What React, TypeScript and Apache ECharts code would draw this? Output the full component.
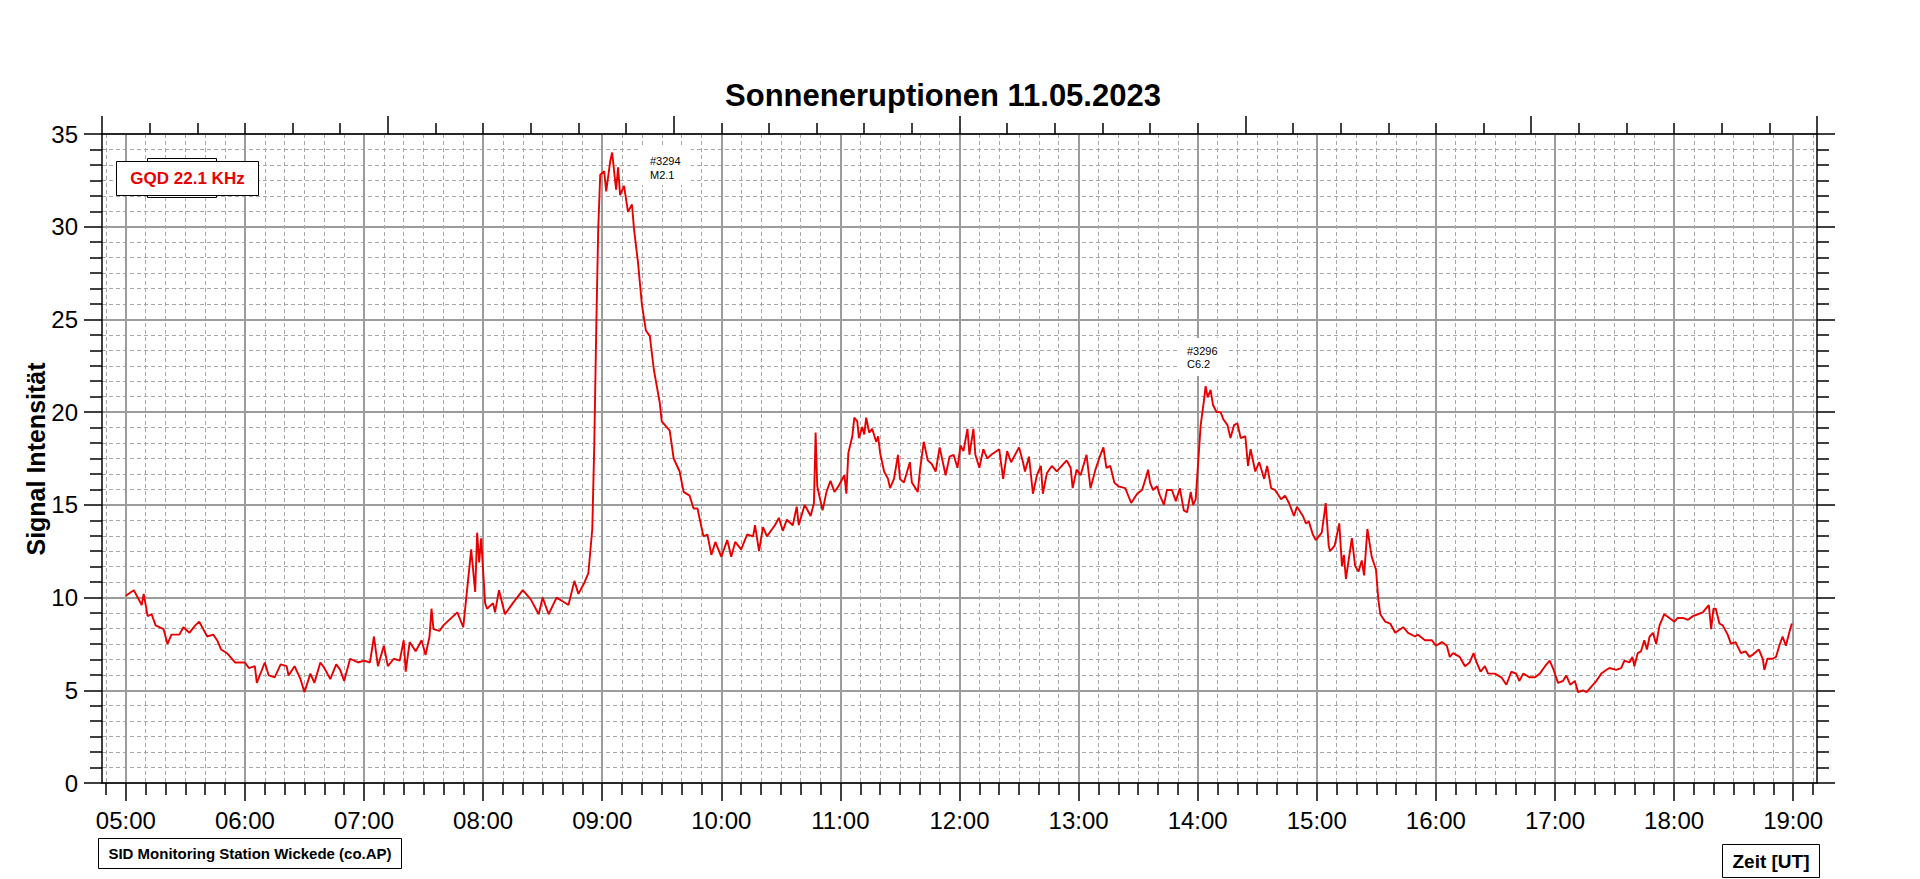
import React, { useEffect, useRef } from "react";
import * as echarts from "echarts";

// ---- tick labels ----
const hourLabels = ["05:00", "06:00", "07:00", "08:00", "09:00", "10:00", "11:00", "12:00", "13:00", "14:00", "15:00", "16:00", "17:00", "18:00", "19:00"];

// ---- signal data (UT time, signal intensity) ----
const morningTime = ["05:00", "05:04", "05:06", "05:08", "05:09", "05:11", "05:13", "05:15", "05:19", "05:21", "05:23", "05:27", "05:29", "05:32", "05:35", "05:37", "05:39", "05:41", "05:44", "05:46", "05:48", "05:51", "05:55", "06:00", "06:02", "06:05", "06:06", "06:10", "06:12", "06:15", "06:18", "06:21", "06:22", "06:25", "06:28", "06:30", "06:33", "06:35", "06:38", "06:40", "06:43", "06:46", "06:48", "06:50", "06:53", "06:57", "07:00", "07:03", "07:05", "07:07", "07:10", "07:12", "07:15", "07:18", "07:20", "07:21", "07:23", "07:26", "07:29", "07:31", "07:33", "07:34"];
const morningSignal = [10.1, 10.4, 10.0, 9.6, 10.2, 9.0, 9.1, 8.5, 8.3, 7.5, 8.0, 8.0, 8.4, 8.1, 8.5, 8.7, 8.3, 7.9, 8.0, 7.7, 7.2, 7.0, 6.5, 6.5, 6.2, 6.3, 5.4, 6.5, 5.8, 5.7, 6.4, 6.3, 5.8, 6.3, 5.6, 4.9, 5.9, 5.4, 6.5, 6.2, 5.6, 6.4, 6.1, 5.5, 6.7, 6.5, 6.6, 6.5, 7.9, 6.3, 7.4, 6.3, 6.7, 6.6, 7.7, 6.0, 7.6, 7.1, 7.7, 6.9, 7.9, 9.4];

const flareM21Time = ["07:35", "07:38", "07:40", "07:42", "07:47", "07:50", "07:52", "07:54", "07:56", "07:57", "07:58", "07:59", "08:01", "08:02", "08:05", "08:06", "08:08", "08:11", "08:15", "08:20", "08:24", "08:28", "08:30", "08:33", "08:37", "08:40", "08:43", "08:46", "08:48", "08:51", "08:53", "08:55", "08:56", "08:57", "08:58", "08:59", "09:01", "09:02", "09:04", "09:05", "09:07", "09:08", "09:09", "09:11", "09:13", "09:15", "09:16", "09:18", "09:20", "09:22", "09:24", "09:26", "09:29", "09:30", "09:34", "09:36", "09:39", "09:41", "09:44", "09:46", "09:48", "09:51", "09:53", "09:55", "09:57", "10:00"];
const flareM21Signal = [8.3, 8.2, 8.5, 8.7, 9.2, 8.4, 10.5, 12.6, 10.3, 13.5, 11.9, 13.2, 9.7, 9.4, 9.7, 9.2, 10.4, 9.1, 9.7, 10.4, 9.9, 9.1, 10.0, 9.1, 10.0, 9.8, 9.6, 10.9, 10.2, 10.8, 11.3, 13.7, 18.2, 24.5, 29.9, 32.8, 33.0, 31.9, 33.5, 34.0, 32.0, 33.2, 31.7, 32.2, 30.8, 31.2, 29.9, 28.1, 25.8, 24.4, 24.1, 22.3, 20.5, 19.5, 19.0, 17.5, 16.8, 15.7, 15.5, 14.8, 14.8, 13.3, 13.4, 12.3, 13.0, 12.2];

const middayTime = ["10:03", "10:05", "10:07", "10:10", "10:13", "10:16", "10:17", "10:19", "10:21", "10:23", "10:27", "10:29", "10:31", "10:33", "10:36", "10:38", "10:39", "10:42", "10:43", "10:45", "10:46:40", "10:47:30", "10:48:20", "10:51", "10:53", "10:55", "10:57", "10:59", "11:02", "11:03", "11:04", "11:06", "11:07", "11:08:30", "11:09:20", "11:11", "11:12", "11:13", "11:14:30", "11:16", "11:18", "11:19", "11:20", "11:22", "11:24", "11:25", "11:27", "11:29", "11:30", "11:32", "11:35", "11:36", "11:39", "11:40", "11:42", "11:44", "11:46", "11:48", "11:50", "11:53", "11:55", "11:57", "11:59", "12:00:30", "12:02", "12:04", "12:05", "12:07", "12:08", "12:10", "12:12", "12:14", "12:16", "12:20", "12:22", "12:24", "12:26", "12:27", "12:30", "12:32"];
const middaySignal = [13.1, 12.2, 13.0, 12.6, 13.4, 13.3, 13.9, 12.5, 13.8, 13.3, 13.9, 14.3, 13.6, 14.2, 13.9, 14.9, 13.9, 15.0, 14.8, 14.4, 15.1, 18.9, 16.0, 14.7, 15.7, 16.3, 15.7, 16.0, 16.6, 15.6, 17.8, 18.7, 19.7, 19.5, 18.6, 19.2, 18.8, 19.7, 18.9, 19.1, 18.4, 18.7, 17.8, 16.8, 16.4, 15.9, 16.4, 17.7, 16.4, 16.2, 17.3, 16.2, 15.7, 16.8, 18.4, 17.4, 17.2, 16.8, 18.1, 16.6, 17.6, 17.7, 17.0, 18.2, 17.9, 19.1, 17.7, 19.1, 17.7, 17.0, 18.0, 17.5, 17.7, 18.0, 16.4, 17.9, 17.3, 17.5, 18.1, 17.3];

const flareC62Time = ["12:33", "12:35", "12:37", "12:39", "12:41", "12:42", "12:44", "12:46:30", "12:49", "12:51:30", "12:54", "12:56", "12:57", "12:59", "13:01", "13:04", "13:06", "13:08:30", "13:11", "13:12:30", "13:14", "13:16", "13:18", "13:20", "13:23:30", "13:26:30", "13:29:30", "13:32", "13:34", "13:35", "13:36", "13:37:30", "13:39:30", "13:41", "13:43", "13:44:30", "13:47", "13:49", "13:51", "13:53", "13:54:40", "13:56:30", "13:57:40", "13:59", "14:00", "14:01:30", "14:03", "14:04", "14:05", "14:06:30", "14:07:40", "14:09:30", "14:11:30", "14:13", "14:15", "14:16:30", "14:18:20", "14:20", "14:21:40", "14:24", "14:25:20", "14:26:40", "14:29", "14:31", "14:33:30", "14:35", "14:37", "14:39", "14:42", "14:44", "14:46", "14:48:30", "14:50", "14:53", "14:54:30", "14:56", "14:58", "14:59:30"];
const flareC62Signal = [16.8, 17.6, 15.6, 16.6, 17.1, 15.6, 16.7, 17.1, 16.8, 17.1, 17.4, 17.0, 15.9, 16.9, 16.6, 17.7, 15.9, 16.9, 17.7, 18.1, 17.0, 17.1, 16.2, 16.0, 15.9, 15.1, 15.6, 15.8, 16.5, 16.9, 16.2, 15.8, 16.0, 15.5, 15.0, 15.8, 15.8, 15.2, 15.9, 14.7, 14.6, 15.7, 15.0, 15.3, 16.9, 19.3, 20.5, 21.4, 20.8, 21.2, 20.4, 20.0, 20.0, 19.6, 19.3, 18.6, 19.3, 19.4, 18.6, 18.7, 17.1, 18.0, 16.8, 17.3, 16.4, 17.1, 15.9, 15.8, 15.3, 15.5, 15.1, 14.4, 14.9, 14.4, 14.0, 14.1, 13.4, 13.1];

const eveningTime = ["15:02:30", "15:03:40", "15:04:30", "15:06", "15:06:40", "15:09", "15:11:20", "15:12:40", "15:13:40", "15:14:40", "15:16:50", "15:17:40", "15:19:20", "15:21", "15:22:40", "15:23:50", "15:25:30", "15:27:40", "15:29:50", "15:31", "15:32", "15:34:30", "15:37", "15:39:30", "15:43:30", "15:46", "15:49:30", "15:51", "15:54:30", "15:58", "16:00", "16:03", "16:05:30", "16:07", "16:08:40", "16:12", "16:14:40", "16:17", "16:19", "16:20:30", "16:22:30", "16:24:40", "16:26:20", "16:29:40", "16:33", "16:35:30", "16:38", "16:40:30", "16:42", "16:44", "16:47:20", "16:50", "16:52:20", "16:55", "16:57:20", "16:59:20", "17:01:30", "17:04", "17:05:40", "17:07:40", "17:10", "17:11:40", "17:14", "17:16", "17:18:20", "17:20:50", "17:23:20", "17:25:50", "17:27:30", "17:30:50", "17:33:20", "17:35", "17:37:30", "17:39", "17:40", "17:41:40", "17:43:20", "17:45", "17:46:20", "17:47:40", "17:49:20", "17:51", "17:52:40", "17:55", "17:57:40", "18:00:10", "18:01:50", "18:04:30", "18:07", "18:09:30", "18:12", "18:14:30", "18:16", "18:17:30", "18:18:40", "18:19:50", "18:21", "18:22:50", "18:24:30", "18:27", "18:28:40", "18:31", "18:33:40", "18:36", "18:38", "18:40:30", "18:42:40", "18:44:40", "18:45:30", "18:47", "18:49:40", "18:51:20", "18:53", "18:54:40", "18:56:20", "18:58", "18:59:20"];
const eveningSignal = [13.5, 14.4, 15.1, 12.8, 12.5, 12.8, 14.0, 11.7, 12.3, 11.0, 12.6, 13.2, 11.7, 11.4, 12.0, 11.2, 13.7, 12.2, 11.5, 9.9, 9.1, 8.7, 8.6, 8.1, 8.4, 8.1, 7.9, 8.0, 7.7, 7.7, 7.4, 7.6, 7.4, 6.8, 7.0, 6.8, 6.3, 6.5, 7.0, 6.5, 6.0, 6.3, 5.9, 5.9, 5.7, 5.3, 6.0, 5.9, 5.5, 5.9, 5.7, 5.7, 5.9, 6.3, 6.6, 6.1, 5.4, 5.5, 5.8, 5.3, 5.5, 4.9, 5.0, 4.9, 5.2, 5.5, 5.9, 6.1, 6.2, 6.1, 6.2, 6.6, 6.5, 6.8, 6.3, 7.0, 7.1, 7.7, 7.2, 7.9, 8.1, 7.5, 8.5, 9.1, 8.9, 8.7, 8.9, 8.9, 8.8, 9.0, 9.1, 9.2, 9.4, 9.6, 8.3, 9.4, 9.4, 8.6, 8.5, 8.0, 7.5, 7.6, 7.0, 7.1, 6.8, 7.0, 7.2, 6.7, 6.1, 6.7, 6.7, 6.8, 7.4, 7.9, 7.4, 8.1, 8.6];

const toHours = (s: string) => {
  const p = s.split(":").map(Number);
  return p[0] + p[1] / 60 + (p[2] || 0) / 3600;
};

const FONT = '"Liberation Sans", Arial, sans-serif';

export default function App() {
  const ref = useRef<HTMLDivElement>(null);

  useEffect(() => {
    if (!ref.current) return;
    const chart = echarts.init(ref.current, null, { renderer: "svg" });

    const segments: [string[], number[]][] = [
      [morningTime, morningSignal],
      [flareM21Time, flareM21Signal],
      [middayTime, middaySignal],
      [flareC62Time, flareC62Signal],
      [eveningTime, eveningSignal],
    ];
    const data: number[][] = [];
    segments.forEach(([t, v]) => t.forEach((s, i) => data.push([toHours(s), v[i]])));

    const hourTicks = hourLabels.map(toHours);
    const tickStyle = { color: "#000", width: 1.5 };

    const option: any = {
      animation: false,
      backgroundColor: "#ffffff",
      grid: { left: 102, right: 103, top: 134, bottom: 96, containLabel: false },
      xAxis: [
        {
          type: "value",
          position: "bottom",
          min: 4.8,
          max: 19.2,
          splitNumber: 14,
          axisLine: { show: true, onZero: false, lineStyle: { color: "#000", width: 1.5 } },
          axisTick: { show: true, inside: false, length: 18, lineStyle: tickStyle, customValues: hourTicks },
          minorTick: { show: true, splitNumber: 6, length: 12, lineStyle: tickStyle },
          axisLabel: {
            show: true,
            customValues: hourTicks,
            margin: 25,
            color: "#000",
            fontSize: 24,
            fontFamily: FONT,
            formatter: (v: number) => {
              const i = hourTicks.findIndex((h) => Math.abs(h - v) < 1e-6);
              return i >= 0 ? hourLabels[i] : "";
            },
          },
          splitLine: { show: true, lineStyle: { color: "#9c9c9c", width: 2 } },
          minorSplitLine: { show: true, lineStyle: { color: "#a8a8a8", width: 1, type: [4, 3] } },
        },
        {
          type: "value",
          position: "top",
          min: 0,
          max: 36,
          interval: 6,
          axisLine: { show: true, onZero: false, lineStyle: { color: "#000", width: 1.5 } },
          axisTick: { show: true, inside: false, length: 18, lineStyle: tickStyle },
          minorTick: { show: true, splitNumber: 6, length: 11, lineStyle: tickStyle },
          axisLabel: { show: false },
          splitLine: { show: false },
          minorSplitLine: { show: false },
        },
      ],
      yAxis: [
        {
          type: "value",
          position: "left",
          min: 0,
          max: 35,
          interval: 5,
          axisLine: { show: true, onZero: false, lineStyle: { color: "#000", width: 1.5 } },
          axisTick: { show: true, inside: false, length: 18, lineStyle: tickStyle },
          minorTick: { show: true, splitNumber: 6, length: 12, lineStyle: tickStyle },
          axisLabel: { show: true, margin: 24, color: "#000", fontSize: 24, fontFamily: FONT },
          splitLine: { show: true, lineStyle: { color: "#9c9c9c", width: 2 } },
          minorSplitLine: { show: true, lineStyle: { color: "#a8a8a8", width: 1, type: [4, 3] } },
        },
        {
          type: "value",
          position: "right",
          min: 0,
          max: 35,
          interval: 5,
          axisLine: { show: true, onZero: false, lineStyle: { color: "#000", width: 1.5 } },
          axisTick: { show: true, inside: false, length: 18, lineStyle: tickStyle },
          minorTick: { show: true, splitNumber: 6, length: 12, lineStyle: tickStyle },
          axisLabel: { show: false },
          splitLine: { show: false },
          minorSplitLine: { show: false },
        },
      ],
      series: [
        {
          name: "GQD 22.1 KHz",
          type: "line",
          xAxisIndex: 0,
          yAxisIndex: 0,
          data,
          showSymbol: false,
          symbol: "none",
          lineStyle: { color: "#e80000", width: 1.9 },
          z: 5,
        },
      ],
      graphic: {
        elements: [
          {
            type: "text",
            x: 943,
            y: 95,
            z: 10,
            style: {
              text: "Sonneneruptionen 11.05.2023",
              font: `bold 31px ${FONT}`,
              fill: "#000",
              align: "center",
              verticalAlign: "middle",
              textAlign: "center",
              textVerticalAlign: "middle",
            },
          },
          {
            type: "text",
            x: 36,
            y: 459,
            rotation: Math.PI / 2,
            z: 10,
            style: {
              text: "Signal Intensität",
              font: `bold 25px ${FONT}`,
              fill: "#000",
              align: "center",
              verticalAlign: "middle",
              textAlign: "center",
              textVerticalAlign: "middle",
            },
          },
          {
            type: "rect",
            z: 10,
            shape: { x: 147.5, y: 158.5, width: 69, height: 39 },
            style: { fill: "#fff", stroke: "#000", lineWidth: 1 },
          },
          {
            type: "rect",
            z: 11,
            shape: { x: 116.5, y: 161.5, width: 142, height: 34 },
            style: { fill: "#fff", stroke: "#000", lineWidth: 1 },
          },
          {
            type: "text",
            x: 187.5,
            y: 178.5,
            z: 12,
            style: {
              text: "GQD 22.1 KHz",
              font: `bold 17px ${FONT}`,
              fill: "#e80000",
              align: "center",
              verticalAlign: "middle",
              textAlign: "center",
              textVerticalAlign: "middle",
            },
          },
          {
            type: "rect",
            z: 1,
            shape: { x: 641, y: 147, width: 50, height: 38 },
            style: { fill: "#fff", stroke: null },
          },
          {
            type: "rect",
            z: 1,
            shape: { x: 1178, y: 338, width: 50, height: 38 },
            style: { fill: "#fff", stroke: null },
          },
          {
            type: "text",
            x: 650,
            y: 154,
            z: 12,
            style: { text: "#3294\nM2.1", font: `11px ${FONT}`, lineHeight: 14, fill: "#000", align: "left", verticalAlign: "top", textAlign: "left", textVerticalAlign: "top" },
          },
          {
            type: "text",
            x: 1187,
            y: 344,
            z: 12,
            style: { text: "#3296\nC6.2", font: `11px ${FONT}`, lineHeight: 13.5, fill: "#000", align: "left", verticalAlign: "top", textAlign: "left", textVerticalAlign: "top" },
          },
          {
            type: "rect",
            z: 10,
            shape: { x: 98.5, y: 838.5, width: 303, height: 30 },
            style: { fill: "#fff", stroke: "#000", lineWidth: 1 },
          },
          {
            type: "text",
            x: 250,
            y: 853.5,
            z: 11,
            style: {
              text: "SID Monitoring Station Wickede (co.AP)",
              font: `bold 15px ${FONT}`,
              fill: "#000",
              align: "center",
              verticalAlign: "middle",
              textAlign: "center",
              textVerticalAlign: "middle",
            },
          },
          {
            type: "rect",
            z: 10,
            shape: { x: 1722.5, y: 844.5, width: 97, height: 33 },
            style: { fill: "#fff", stroke: "#000", lineWidth: 1 },
          },
          {
            type: "text",
            x: 1771,
            y: 861.5,
            z: 11,
            style: {
              text: "Zeit [UT]",
              font: `bold 19px ${FONT}`,
              fill: "#000",
              align: "center",
              verticalAlign: "middle",
              textAlign: "center",
              textVerticalAlign: "middle",
            },
          },
        ],
      },
    };

    chart.setOption(option);
    return () => chart.dispose();
  }, []);

  return (
    <div
      ref={ref}
      style={{ position: "fixed", left: 0, top: 0, width: "100vw", height: "100vh", background: "#fff" }}
    />
  );
}
